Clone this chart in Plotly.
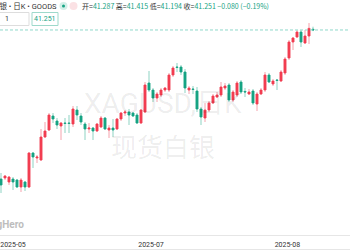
import plotly.graph_objects as go

# ---------------- data ----------------
opens = [33.80, 33.85, 33.65, 33.80, 33.75, 33.40, 33.65, 33.40, 35.10, 34.85,
         34.75, 35.90, 36.25, 36.95, 36.70, 36.45, 36.60, 36.60, 36.55, 37.25,
         36.95, 36.55, 36.30, 36.35, 36.20, 36.40, 36.85, 36.25, 36.35, 36.30,
         36.80, 37.10, 37.15, 37.10, 37.00, 36.60, 37.15, 38.60, 38.25, 37.85,
         38.00, 38.25, 38.25, 39.00, 39.40, 39.40, 39.15, 38.25, 38.30, 38.20,
         37.30, 36.85, 37.25, 37.60, 37.90, 38.00, 38.35, 38.50, 37.75, 38.00,
         38.65, 38.18, 38.05, 38.20, 37.55, 38.05, 38.25, 39.00, 38.55, 38.75,
         38.70, 39.10, 39.85, 40.65, 40.90, 41.15, 40.60, 40.95, 41.287]
highs = [34.10, 34.00, 33.95, 33.90, 33.80, 33.85, 33.70, 35.15, 35.15, 35.00,
         36.30, 36.65, 37.10, 37.10, 36.85, 36.65, 36.85, 37.00, 37.45, 37.45,
         37.10, 36.65, 36.60, 36.40, 36.60, 36.95, 36.90, 36.50, 36.80, 36.85,
         37.15, 37.25, 37.30, 37.15, 37.10, 37.30, 38.65, 39.20, 38.35, 38.15,
         38.35, 38.40, 39.10, 39.45, 39.60, 39.50, 39.30, 38.45, 38.45, 38.40,
         37.40, 37.60, 37.70, 38.05, 38.15, 38.65, 38.60, 38.60, 38.25, 38.70,
         38.75, 38.35, 38.30, 38.30, 38.15, 38.35, 39.15, 39.10, 38.80, 38.80,
         39.25, 39.90, 40.75, 40.90, 41.25, 41.25, 41.25, 41.60, 41.415]
lows = [33.10, 33.75, 33.50, 33.25, 33.35, 33.15, 33.20, 33.35, 34.35, 34.60,
        34.70, 35.85, 36.20, 36.60, 36.30, 35.75, 36.10, 36.10, 36.40, 36.75,
        36.50, 35.75, 36.10, 35.75, 36.15, 36.35, 36.25, 35.85, 35.90, 36.25,
        36.70, 36.95, 36.50, 36.90, 36.55, 36.55, 37.10, 38.15, 37.65, 37.65,
        37.90, 38.15, 38.15, 38.90, 39.15, 39.00, 38.10, 38.05, 38.05, 37.15,
        36.50, 36.65, 37.15, 37.55, 37.85, 37.90, 38.25, 37.65, 37.65, 37.90,
        38.05, 37.90, 38.00, 37.50, 37.20, 38.00, 38.15, 38.60, 38.45, 38.25,
        38.65, 39.00, 39.75, 40.25, 40.85, 40.40, 40.55, 40.55, 41.194]
closes = [33.50, 33.95, 33.90, 33.65, 33.40, 33.75, 33.40, 35.10, 34.90, 34.90,
          35.90, 36.20, 37.00, 36.80, 36.50, 36.60, 36.58, 36.58, 37.30, 37.00,
          36.65, 36.30, 36.35, 36.20, 36.55, 36.85, 36.30, 36.35, 36.25, 36.80,
          37.10, 37.15, 37.00, 36.95, 36.60, 37.25, 38.50, 38.25, 37.85, 38.05,
          38.25, 38.35, 39.00, 39.35, 39.38, 39.15, 38.35, 38.35, 38.28, 37.30,
          36.90, 37.25, 37.60, 37.95, 38.00, 38.40, 38.45, 37.75, 38.15, 38.60,
          38.15, 38.15, 38.15, 37.60, 38.05, 38.25, 39.00, 38.65, 38.70, 38.73,
          39.15, 39.80, 40.65, 40.85, 41.15, 40.65, 40.95, 41.331, 41.251]

tick_labels = ["2025-05", "2025-07", "2025-08"]
tick_index = [3, 37.5, 71.6]

title_text = "现货白银 • 日K • GOODS"
watermark_1 = "XAGUSD,日K"
watermark_2 = "现货白银"
brand = "TradingHero"
qty_text = "1"

# ---------------- styling ----------------
W, H = 350, 250
PLOT_H = 235
FONT = "Roboto, 'Noto Sans CJK SC', sans-serif"
CJK = "'Noto Sans CJK SC', Roboto, sans-serif"
RED, GREEN = "#F23D50", "#16A383"
RED_W, GREEN_W = "#F5A2AC", "#8ED3C3"
TEXT = "#333333"

idx = list(range(len(opens)))
body_hi = [max(o, c) for o, c in zip(opens, closes)]
body_lo = [min(o, c) for o, c in zip(opens, closes)]

fig = go.Figure()
# wicks (lighter)
fig.add_trace(go.Candlestick(
    x=idx, open=opens, high=highs, low=lows, close=closes,
    increasing=dict(line=dict(color=RED_W, width=1), fillcolor=RED_W),
    decreasing=dict(line=dict(color=GREEN_W, width=1), fillcolor=GREEN_W),
    whiskerwidth=0, hoverinfo="skip", showlegend=False))
# bodies
fig.add_trace(go.Candlestick(
    x=idx, open=opens, high=body_hi, low=body_lo, close=closes,
    increasing=dict(line=dict(color=RED, width=0.6), fillcolor=RED),
    decreasing=dict(line=dict(color=GREEN, width=0.6), fillcolor=GREEN),
    whiskerwidth=0, hoverinfo="skip", showlegend=False))

last = closes[-1]
prev = closes[-2]
chg = last - prev
pct = chg / prev * 100


def px(x):
    return x / W


def py(y):
    return 1 - y / PLOT_H


def ann(text, x, y, size, color, xanchor="left", family=FONT, **kw):
    return dict(text=text, x=px(x), y=py(y), xref="paper", yref="paper",
                xanchor=xanchor, yanchor="middle", showarrow=False,
                font=dict(size=size, color=color, family=family), **kw)


def fmt_sign(v, d=3):
    s = f"{abs(v):.{d}f}"
    return ("−" if v < 0 else "+") + s


ohlc_html = (
    f"<span style='color:{TEXT}'>开=</span><span style='color:{GREEN}'>{opens[-1]:.3f}</span> "
    f"<span style='color:{TEXT}'>高=</span><span style='color:{GREEN}'>{highs[-1]:.3f}</span> "
    f"<span style='color:{TEXT}'>低=</span><span style='color:{GREEN}'>{lows[-1]:.3f}</span> "
    f"<span style='color:{TEXT}'>收=</span><span style='color:{GREEN}'>{last:.3f} {fmt_sign(chg)} ({fmt_sign(pct, 2)}%)</span>"
)

annotations = [
    ann(watermark_1, 163, 103, 28, "rgba(0,0,0,0.08)", xanchor="center"),
    ann(watermark_2, 163, 145, 26, "rgba(0,0,0,0.08)", xanchor="center", family=CJK),
    ann(f"<b>{brand}</b>", 25.5, 224, 10, "#bdbdbd", xanchor="right"),
    ann(title_text, 58.5, 6, 7.5, TEXT, xanchor="right", family=FONT),
    ann(ohlc_html, 80, 6, 7, TEXT, xanchor="left", family=CJK),
    ann(qty_text, 3, 19.5, 7, TEXT, xanchor="left"),
    ann(f"{last:.3f}", 45, 19.5, 7, GREEN, xanchor="center"),
]

shapes = [
    # last-price dashed line
    dict(type="line", xref="paper", yref="y", x0=0, x1=1, y0=last, y1=last,
         line=dict(color="#8ED8CB", width=1, dash="3px,2px")),
    # header icons
    dict(type="circle", xref="paper", yref="paper", x0=px(59.5), x1=px(67.5),
         y0=py(10), y1=py(2), fillcolor="#D3EFE8", line=dict(width=0)),
    dict(type="circle", xref="paper", yref="paper", x0=px(62), x1=px(65),
         y0=py(7.5), y1=py(4.5), fillcolor=GREEN, line=dict(width=0)),
    dict(type="circle", xref="paper", yref="paper", x0=px(69.5), x1=px(77.5),
         y0=py(10), y1=py(2), fillcolor="#FBE1E4", line=dict(width=0)),
    # quantity input box
    dict(type="rect", xref="paper", yref="paper", x0=px(-3), x1=px(29),
         y0=py(25.5), y1=py(12.5), fillcolor="white",
         line=dict(color="#DDDDDD", width=1), layer="below"),
    # price box
    dict(type="rect", xref="paper", yref="paper", x0=px(32), x1=px(58),
         y0=py(25.5), y1=py(12.5), fillcolor="white",
         line=dict(color="#9ED9CB", width=1), layer="below"),
    # bottom border of the axis strip
    dict(type="line", xref="paper", yref="paper", x0=0, x1=1,
         y0=py(249.5), y1=py(249.5), line=dict(color="#E6E6E6", width=1)),
]

fig.update_layout(
    width=W, height=H,
    margin=dict(l=0, r=0, t=0, b=H - PLOT_H, pad=0),
    paper_bgcolor="white", plot_bgcolor="white",
    showlegend=False,
    annotations=annotations,
    shapes=shapes,
    xaxis=dict(range=[-0.25, 87.25], showgrid=False, zeroline=False,
               showline=True, linecolor="#E6E6E6", linewidth=1,
               tickmode="array", tickvals=tick_index, ticktext=tick_labels,
               ticks="", tickfont=dict(size=7, color=TEXT, family=FONT),
               ticklabelstandoff=3,
               rangeslider=dict(visible=False), fixedrange=True),
    yaxis=dict(range=[31.0, 42.75], visible=False, fixedrange=True),
)

fig.write_html("out.html", config={"displayModeBar": False})
